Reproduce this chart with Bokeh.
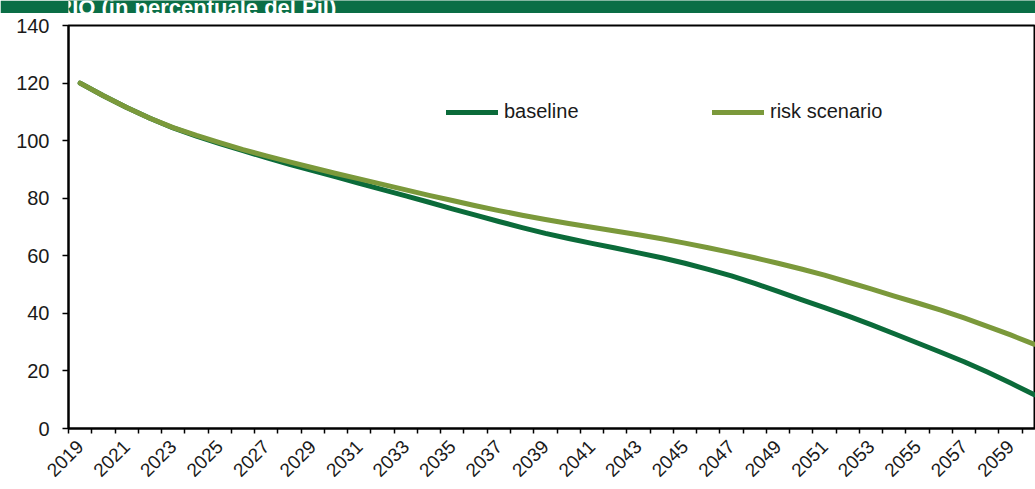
import math
from bokeh.plotting import figure
from bokeh.models import FixedTicker, Legend, LegendItem, Range1d
from bokeh.layouts import column
from bokeh.core.properties import value
from bokeh.embed import file_html
from bokeh.resources import INLINE

years = list(range(2019, 2061))
baseline = [120.0, 115.6, 111.5, 107.8, 104.4, 101.6, 99.0, 96.5, 94.1, 91.8,
            89.6, 87.4, 85.2, 83.0, 80.8, 78.6, 76.3, 74.1, 71.9, 69.8,
            67.8, 66.0, 64.3, 62.7, 61.0, 59.3, 57.4, 55.3, 53.0, 50.4,
            47.6, 44.8, 42.0, 39.1, 36.1, 32.9, 29.7, 26.5, 23.2, 19.6,
            15.8, 11.8]
risk_scenario = [120.0, 115.6, 111.5, 107.8, 104.5, 101.8, 99.3, 96.9, 94.7, 92.6,
                 90.6, 88.6, 86.7, 84.8, 82.9, 81.0, 79.2, 77.4, 75.7, 74.1,
                 72.6, 71.2, 69.9, 68.6, 67.3, 65.9, 64.4, 62.8, 61.1, 59.3,
                 57.4, 55.4, 53.3, 50.9, 48.5, 46.0, 43.6, 41.1, 38.4, 35.5,
                 32.5, 29.3]
x_tick_labels = list(range(2019, 2060, 2))
x_boundaries = [y - 0.5 for y in range(2019, 2062)]
y_ticks = [0, 20, 40, 60, 80, 100, 120, 140]
series_names = ["baseline", "risk scenario"]
title_text = "BASELINE E RISK SCENARIO (in percentuale del Pil)"

DARK = "#0b6b3a"
OLIVE = "#7b993b"
BAND = "#0a6e46"
TXT = "#1a1a1a"
FONT = "Liberation Sans"

# ---- header band (title partly cut off, as in the source) ----
# the column aligns this band's frame with the chart frame (page x 68..1035)
head = figure(width=1035, height=13, x_range=Range1d(68, 1035), y_range=Range1d(0, 13),
              output_backend="svg", toolbar_location=None,
              min_border_left=0, min_border_right=0, min_border_top=0, min_border_bottom=0)
head.axis.visible = False
head.grid.grid_line_color = None
head.outline_line_color = None
head.background_fill_color = BAND
head.border_fill_color = BAND
head.text(x=[-218], y=[6], text=[title_text], text_font=value(FONT),
          text_font_style="bold", text_font_size="22px", text_color="white",
          text_baseline="alphabetic", text_align="left")

# ---- main chart ----
p = figure(width=1035, height=476,
           x_range=Range1d(2018.5, 2060.07), y_range=Range1d(0, 140),
           output_backend="svg", toolbar_location=None,
           min_border_left=68, min_border_right=0,
           min_border_top=12, min_border_bottom=61)

r_base = p.line(years, baseline, line_width=5, line_color=DARK,
                line_cap="round", line_join="round")
r_risk = p.line(years, risk_scenario, line_width=5, line_color=OLIVE,
                line_cap="round", line_join="round")

p.xgrid.grid_line_color = None
p.ygrid.grid_line_color = None
p.outline_line_color = "black"
p.outline_line_width = 2
p.background_fill_color = "white"
p.border_fill_color = "white"

xa = p.xaxis[0]
xa.ticker = FixedTicker(ticks=x_tick_labels, minor_ticks=x_boundaries)
xa.major_label_orientation = math.pi / 4
xa.major_tick_out = 0
xa.major_tick_in = 0
xa.minor_tick_out = 5
xa.minor_tick_in = 0
xa.minor_tick_line_color = "black"
xa.minor_tick_line_width = 1.5
xa.axis_line_color = "black"
xa.axis_line_width = 2
xa.major_label_text_font = FONT
xa.major_label_text_font_size = "19px"
xa.major_label_text_color = TXT
xa.major_label_standoff = 10

ya = p.yaxis[0]
ya.ticker = FixedTicker(ticks=y_ticks)
ya.major_tick_out = 6
ya.major_tick_in = 0
ya.minor_tick_out = 0
ya.minor_tick_in = 0
ya.major_tick_line_color = "black"
ya.major_tick_line_width = 1.5
ya.axis_line_color = "black"
ya.axis_line_width = 2
ya.major_label_text_font = FONT
ya.major_label_text_font_size = "20px"
ya.major_label_text_color = TXT
ya.major_label_standoff = 13


def make_legend(label, rend, loc):
    lg = Legend(items=[LegendItem(label=label, renderers=[rend])], location=loc,
                orientation="horizontal", padding=0, margin=0, spacing=0,
                border_line_alpha=0, background_fill_alpha=0,
                glyph_width=52, glyph_height=20, label_height=20,
                label_standoff=6, label_text_font=FONT,
                label_text_font_size="20px", label_text_color=TXT)
    p.add_layout(lg)


make_legend(series_names[0], r_base, (378, 305))
make_legend(series_names[1], r_risk, (644, 305))

layout = column(head, p, spacing=0)

open("out.html", "w").write(file_html(layout, INLINE))
